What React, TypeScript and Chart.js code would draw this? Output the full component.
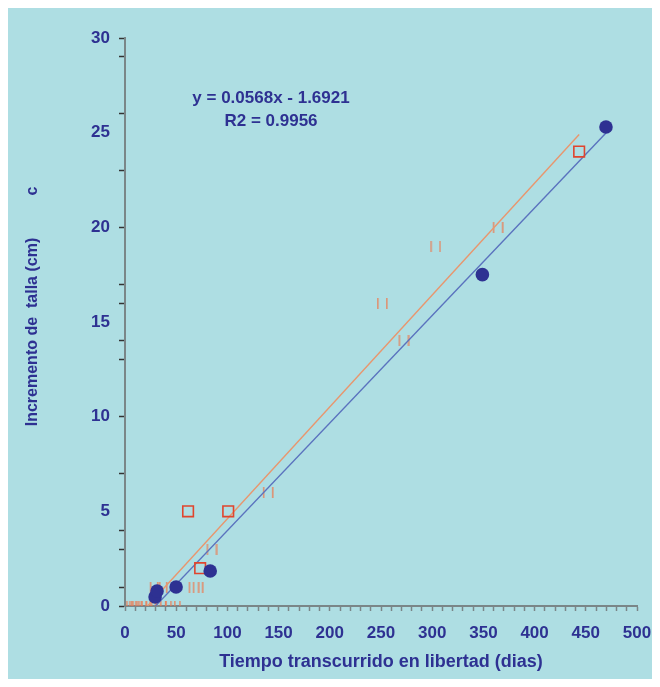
import { useEffect, useRef } from 'react';
import { Chart, registerables } from 'chart.js';
Chart.register(...registerables);

// ---- data ----
const BLUE_X = [29.4, 31.3, 49.9, 83.2, 349, 469.7];
const BLUE_Y = [0.48, 0.79, 1.0, 1.85, 17.5, 25.3];
const SQUARE_X = [61.6, 73.4, 100.8, 443.5];
const SQUARE_Y = [5, 2, 5, 24];
const BAR_X = [2, 6, 9, 12, 16, 20, 25, 30, 35, 44, 49, 29, 36, 67, 71, 84.5, 139.5, 251, 272, 303, 364];
const BAR_Y = [0, 0, 0, 0, 0, 0, 0, 0, 0, 0, 0, 1, 1, 1, 1, 3, 6, 16, 14, 19, 20];
const TREND_SLOPE = 0.0568;
const TREND_INTERCEPT = -1.6921;
const ORANGE_TREND_X = [22, 443.5];
const ORANGE_TREND_Y = [0, 24.9];
const X_MIN = 0;
const X_MAX = 500;
const X_STEP = 10;
const X_LABEL_STEP = 50;
const Y_MIN = 0;
const Y_MAX = 30;
const Y_TICKS = [0, 1, 3, 4, 5, 7, 10, 13, 14, 15, 16, 17, 20, 23, 25, 26, 29, 30];
const Y_LABEL_STEP = 5;
const Y_NO_MARK = [5, 15, 25];
const EQUATION = 'y = 0.0568x - 1.6921';
const R2_TEXT = 'R2 = 0.9956';
const X_TITLE = 'Tiempo transcurrido en libertad (dias)';
const Y_TITLE = 'Incremento de  talla (cm)';
const Y_TITLE_EXTRA = 'c';

const TEXT_COLOR = '#2E3192';
const BG = '#AEDEE3';
const FONT = '"Liberation Sans", Arial, sans-serif';

function makeBarMarker(): HTMLCanvasElement {
  const c = document.createElement('canvas');
  c.width = 12;
  c.height = 11;
  const g = c.getContext('2d')!;
  g.fillStyle = 'rgba(234,128,88,0.8)';
  g.fillRect(1, 0, 1.6, 11);
  g.fillRect(10, 0, 1.6, 11);
  return c;
}

export default function App() {
  const ref = useRef<HTMLCanvasElement | null>(null);
  useEffect(() => {
    if (!ref.current) return;
    const xMinB = Math.min(...BLUE_X);
    const xMaxB = Math.max(...BLUE_X);
    const textPlugin = {
      id: 'texts',
      afterDraw(chart: any) {
        const { ctx, chartArea } = chart;
        ctx.save();
        ctx.fillStyle = TEXT_COLOR;
        ctx.textAlign = 'center';
        ctx.textBaseline = 'middle';
        ctx.font = `bold 17px ${FONT}`;
        ctx.fillText(EQUATION, chartArea.left + 146, chartArea.top + 60);
        ctx.fillText(R2_TEXT, chartArea.left + 146, chartArea.top + 83);
        ctx.font = `bold 18px ${FONT}`;
        ctx.fillText(X_TITLE, (chartArea.left + chartArea.right) / 2, chartArea.bottom + 56);
        ctx.translate(25, 0);
        ctx.rotate(-Math.PI / 2);
        ctx.font = `bold 16px ${FONT}`;
        ctx.fillText(Y_TITLE, -324, 0);
        ctx.fillText(Y_TITLE_EXTRA, -183, 0);
        ctx.restore();
      },
    };
    const chart = new Chart(ref.current, {
      type: 'scatter',
      data: {
        datasets: [
          {
            data: BLUE_X.map((x, i) => ({ x, y: BLUE_Y[i] })),
            pointStyle: 'circle',
            pointRadius: 6.8,
            backgroundColor: '#2E3192',
            borderColor: '#2E3192',
            borderWidth: 0,
          },
          {
            data: SQUARE_X.map((x, i) => ({ x, y: SQUARE_Y[i] })),
            pointStyle: 'rect',
            pointRadius: 7.5,
            backgroundColor: 'rgba(0,0,0,0)',
            borderColor: '#E0452E',
            borderWidth: 1.6,
          },
          {
            data: [
              { x: xMinB, y: TREND_SLOPE * xMinB + TREND_INTERCEPT },
              { x: xMaxB, y: TREND_SLOPE * xMaxB + TREND_INTERCEPT },
            ],
            showLine: true,
            pointRadius: 0,
            borderColor: '#5A72BE',
            borderWidth: 1.4,
          },
          {
            data: ORANGE_TREND_X.map((x, i) => ({ x, y: ORANGE_TREND_Y[i] })),
            showLine: true,
            pointRadius: 0,
            borderColor: '#E8966E',
            borderWidth: 1.4,
          },
          {
            data: BAR_X.map((x, i) => ({ x, y: BAR_Y[i] })),
            pointStyle: makeBarMarker(),
            pointRadius: 6,
          },
        ],
      },
      options: {
        animation: false,
        responsive: true,
        maintainAspectRatio: false,
        layout: { padding: { top: 30, right: 15, left: 0, bottom: 0 } },
        plugins: { legend: { display: false }, tooltip: { enabled: false } },
        scales: {
          x: {
            type: 'linear',
            min: X_MIN,
            max: X_MAX,
            afterFit: (s: any) => {
              s.height = 73;
              s.paddingRight = 0;
              s.paddingLeft = 0;
            },
            ticks: {
              stepSize: X_STEP,
              autoSkip: false,
              maxRotation: 0,
              padding: 12,
              color: TEXT_COLOR,
              font: { family: FONT, size: 17, weight: 'bold' },
              callback: (v: any) => (Number(v) % X_LABEL_STEP === 0 ? String(v) : ''),
            },
            grid: { drawOnChartArea: false, drawTicks: true, tickLength: 5, tickColor: '#7A8688', tickWidth: 1.5 },
            border: { color: '#7A8688', width: 2 },
          },
          y: {
            type: 'linear',
            min: Y_MIN,
            max: Y_MAX,
            afterFit: (s: any) => {
              s.width = 117;
              s.paddingTop = 0;
              s.paddingBottom = 0;
            },
            afterBuildTicks: (s: any) => {
              s.ticks = Y_TICKS.map((v) => ({ value: v }));
            },
            ticks: {
              autoSkip: false,
              padding: 9,
              color: TEXT_COLOR,
              font: { family: FONT, size: 17, weight: 'bold' },
              callback: (v: any) => (Number(v) % Y_LABEL_STEP === 0 ? String(v) : ''),
            },
            grid: {
              drawOnChartArea: false,
              drawTicks: true,
              tickLength: 6,
              tickWidth: 1.5,
              tickColor: (c: any) => (Y_NO_MARK.includes(c.tick?.value) ? 'rgba(0,0,0,0)' : '#333'),
            },
            border: { color: '#7A8688', width: 2 },
          },
        },
      },
      plugins: [textPlugin],
    } as any);
    return () => chart.destroy();
  }, []);
  return (
    <div style={{ width: 644, height: 671, background: BG, position: 'relative' }}>
      <canvas ref={ref} />
    </div>
  );
}
